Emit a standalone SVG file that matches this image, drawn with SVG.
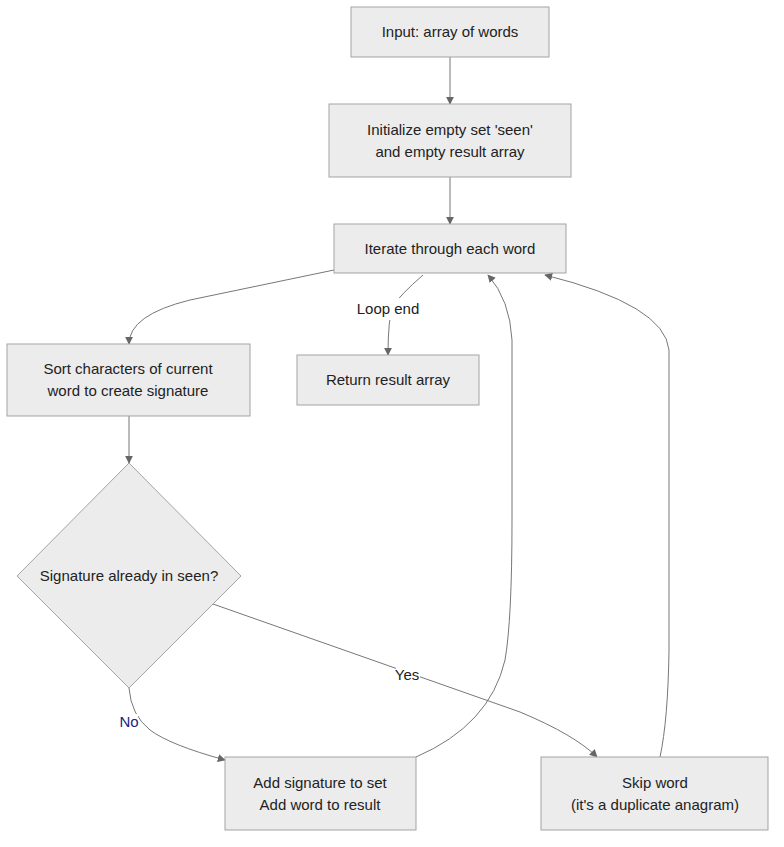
<svg xmlns="http://www.w3.org/2000/svg" width="784" height="847" viewBox="0 0 784 847">
<defs>
<marker id="arr" viewBox="0 0 10 10" refX="9" refY="5" markerWidth="8" markerHeight="8" orient="auto-start-reverse" markerUnits="userSpaceOnUse">
<path d="M0,0 L10,5 L0,10 z" fill="#666"/>
</marker>
<style>
.n{fill:#ececec;stroke:#a3a3a3;stroke-width:1}
.t{font-family:"Liberation Sans",Arial,sans-serif;font-size:15px;fill:#222;text-anchor:middle;dominant-baseline:central}
.e{fill:none;stroke:#777;stroke-width:1;marker-end:url(#arr)}
.l{font-family:"Liberation Sans",Arial,sans-serif;font-size:15px;fill:#222;text-anchor:middle;dominant-baseline:central}
.lb{fill:#fff}
</style>
</defs>
<rect width="784" height="847" fill="#fff"/>
<g id="connectors">
<path class="e" d="M450,57 L450,104"/>
<path class="e" d="M450,177 L450,224"/>
<path class="e" d="M334,270 L190,300 Q129,315 129,344"/>
<path class="e" d="M423,275 Q400,295 393,306 Q388,318 388,355"/>
<path class="e" d="M129,416 L129,463"/>
<path class="e" d="M129,688 Q131,715 150,730 Q170,745 225,760"/>
<path class="e" d="M213,604 L520,712 Q575,735 597,757"/>
<path class="e" d="M416,757 Q490,725 505,660 Q512,620 512,520 L512,340 Q510,300 488,275"/>
<path class="e" d="M660,757 Q668,720 669,650 L669,350 Q665,305 545,275"/>
</g>
<g id="labels">
<rect class="lb" x="357" y="298" width="62" height="22"/>
<text class="l" x="388" y="308">Loop end</text>
<rect class="lb" x="120" y="714" width="18" height="16"/>
<text class="l" x="129" y="721" style="fill:#1a237e">No</text>
<rect class="lb" x="396" y="667" width="24" height="16"/>
<text class="l" x="407" y="674">Yes</text>
</g>
<g id="input"><rect class="n" x="351" y="7" width="198" height="50"/><text class="t" x="450" y="31">Input: array of words</text></g>
<g id="init"><rect class="n" x="329" y="104" width="242" height="73"/><text class="t" x="450" y="129">Initialize empty set 'seen'</text><text class="t" x="450" y="151">and empty result array</text></g>
<g id="iterate"><rect class="n" x="334" y="224" width="232" height="49"/><text class="t" x="450" y="248">Iterate through each word</text></g>
<g id="sort"><rect class="n" x="7" y="344" width="243" height="72"/><text class="t" x="128" y="368">Sort characters of current</text><text class="t" x="128" y="390">word to create signature</text></g>
<g id="return"><rect class="n" x="297" y="355" width="182" height="50"/><text class="t" x="388" y="379">Return result array</text></g>
<g id="decision"><polygon class="n" points="129,463 241,576 129,688 17,576"/><text class="t" x="129" y="575">Signature already in seen?</text></g>
<g id="add"><rect class="n" x="225" y="757" width="191" height="73"/><text class="t" x="320" y="782">Add signature to set</text><text class="t" x="320" y="804">Add word to result</text></g>
<g id="skip"><rect class="n" x="541" y="757" width="227" height="73"/><text class="t" x="655" y="782">Skip word</text><text class="t" x="655" y="804">(it's a duplicate anagram)</text></g>
</svg>
